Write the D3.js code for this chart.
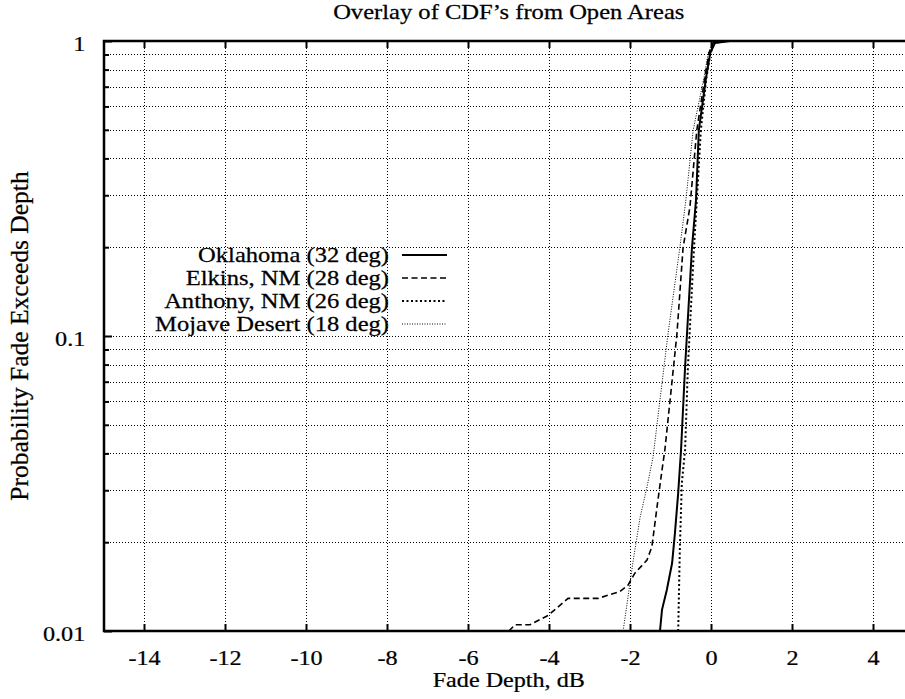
<!DOCTYPE html>
<html>
<head>
<meta charset="utf-8">
<script src="https://cdn.jsdelivr.net/npm/d3@7"></script>
<style>
    body { margin: 0; background: #fff; }
    text { font-family: "Liberation Serif", "Times New Roman", serif; fill: #000; stroke: #000; stroke-width: 0.25; }
</style>
</head>
<body>
<div id="chart"></div>
<script>
//axis values
var xTicks = [-14, -12, -10, -8, -6, -4, -2, 0, 2, 4];
var yTicks = [0.01, 0.1, 1];
var yMinor = [0.02, 0.03, 0.04, 0.05, 0.06, 0.07, 0.08, 0.09, 0.2, 0.3, 0.4, 0.5, 0.6, 0.7, 0.8, 0.9];

var seriesNames = ["Oklahoma (32 deg)", "Elkins, NM (28 deg)", "Anthony, NM (26 deg)", "Mojave Desert (18 deg)"];

//fade depth (dB) and probability
var oklahomaX = [-1.26, -1.21, -1.09, -0.96, -0.89, -0.81, -0.74, -0.64, -0.47, -0.37, -0.30, -0.12, -0.02, 0.10, 0.47];
var oklahomaP = [0.01, 0.0118, 0.0138, 0.017, 0.0215, 0.0294, 0.041, 0.0785, 0.199, 0.289, 0.499, 0.755, 0.91, 0.985, 1.0];

var elkinsX = [-4.99, -4.84, -4.47, -4.02, -3.53, -2.79, -2.25, -2.05, -1.88, -1.58, -1.46, -1.31, -1.21, -1.14, -1.01, -0.84, -0.69, -0.52, -0.35, -0.15, -0.05, 0.05, 0.35];
var elkinsP = [0.01, 0.0105, 0.0105, 0.0113, 0.0129, 0.0129, 0.0136, 0.0143, 0.0157, 0.0174, 0.0193, 0.0278, 0.0351, 0.041, 0.0607, 0.102, 0.199, 0.274, 0.499, 0.755, 0.91, 0.985, 1.0];

var anthonyX = [-0.81, -0.77, -0.72, -0.64, -0.57, -0.42, -0.35, -0.25, -0.12, -0.02, 0.07, 0.35];
var anthonyP = [0.01, 0.0188, 0.0318, 0.041, 0.0785, 0.199, 0.289, 0.499, 0.74, 0.9, 0.985, 1.0];

var mojaveX = [-2.17, -2.05, -1.93, -1.75, -1.58, -1.43, -1.26, -1.06, -0.77, -0.62, -0.44, -0.17, -0.07, 0.05, 0.27];
var mojaveP = [0.01, 0.013, 0.017, 0.0243, 0.0308, 0.0389, 0.0607, 0.102, 0.199, 0.289, 0.499, 0.755, 0.91, 0.985, 1.0];

var seriesX = [oklahomaX, elkinsX, anthonyX, mojaveX];
var seriesP = [oklahomaP, elkinsP, anthonyP, mojaveP];
var seriesDash = ["none", "6,3.5", "2,2.5", "1,1.5"];
var seriesWidth = [2, 1.6, 2, 1];

var width = 905, height = 699;
var plot = {left: 104, right: 913.5, top: 41, bottom: 631};

var svg = d3.select("#chart").append("svg")
    .attr("width", width)
    .attr("height", height);

var xLinear = d3.scaleLinear()
    .domain([-15, 5])
    .range([plot.left - 0.5, plot.right]);
var yLog = d3.scaleLog()
    .domain([0.01, 1])
    .range([plot.bottom, plot.top]);

//stretched text, like the scanned original
function wideText(g, str, x, y, size, sx, anchor) {
    return g.append("text")
        .attr("transform", "translate(" + x + "," + y + ") scale(" + sx + ",1)")
        .attr("font-size", size)
        .attr("text-anchor", anchor)
        .text(str);
}

svg.append("clipPath")
    .attr("id", "clip")
    .append("rect")
    .attr("x", plot.left)
    .attr("y", plot.top - 2)
    .attr("width", width - plot.left)
    .attr("height", plot.bottom - plot.top + 2);

//grid
var grid = svg.append("g")
    .attr("class", "grid");
grid.append("g")
    .attr("transform", "translate(0," + plot.bottom + ")")
    .call(d3.axisBottom(xLinear).tickValues(xTicks).tickSize(-(plot.bottom - plot.top)).tickFormat(""));
grid.append("g")
    .attr("transform", "translate(" + plot.left + ",0)")
    .call(d3.axisLeft(yLog).tickValues(yMinor.concat([0.1])).tickSize(-(width - plot.left)).tickFormat(""));
grid.selectAll(".domain").remove();
grid.selectAll("line")
    .attr("stroke", "#000")
    .attr("stroke-width", 1)
    .attr("shape-rendering", "crispEdges")
    .attr("stroke-dasharray", "1,2");

//bottom axis, plain hyphen for negatives
var xAxis = svg.append("g")
    .attr("transform", "translate(0," + plot.bottom + ")")
    .call(d3.axisBottom(xLinear).tickValues(xTicks).tickSizeInner(-7).tickSizeOuter(0)
        .tickFormat(function (d) { return String(d); }));
xAxis.selectAll("text")
    .attr("y", 34)
    .attr("dy", 0)
    .attr("font-size", 22)
    .attr("transform", "scale(1.1,1)");

//top ticks
svg.append("g")
    .attr("transform", "translate(0," + plot.top + ")")
    .call(d3.axisTop(xLinear).tickValues(xTicks).tickSizeInner(-7).tickSizeOuter(0).tickFormat(""));

//left axis
var yAxis = svg.append("g")
    .attr("transform", "translate(" + plot.left + ",0)")
    .call(d3.axisLeft(yLog).tickValues(yTicks).tickSizeInner(-8).tickSizeOuter(0)
        .tickFormat(function (d) { return String(d); }));
yAxis.selectAll("text")
    .attr("x", -17)
    .attr("y", 9.5)
    .attr("dy", 0)
    .attr("font-size", 22)
    .attr("transform", "scale(1.1,1)");
svg.append("g")
    .attr("transform", "translate(" + plot.left + ",0)")
    .call(d3.axisLeft(yLog).tickValues(yMinor).tickSizeInner(-5).tickSizeOuter(0).tickFormat(""));

svg.selectAll(".domain").remove();
svg.selectAll(".tick line")
    .filter(function () { return !this.closest(".grid"); })
    .attr("stroke", "#000")
    .attr("stroke-width", 2);

//frame (right side is cut off in the original)
var frame = svg.append("g")
    .attr("stroke", "#000")
    .attr("stroke-width", 2.5)
    .attr("fill", "none");
frame.append("path")
    .attr("d", "M" + width + "," + plot.top + "H" + plot.left + "V" + plot.bottom + "H" + width);

//curves
var line = d3.line()
    .x(function (d) { return xLinear(d[0]); })
    .y(function (d) { return yLog(d[1]); });

var curves = svg.append("g")
    .attr("clip-path", "url(#clip)");
seriesX.forEach(function (xs, i) {
    var pts = xs.map(function (v, j) { return [v, seriesP[i][j]]; });
    curves.append("path")
        .datum(pts)
        .attr("d", line)
        .attr("fill", "none")
        .attr("stroke", "#000")
        .attr("stroke-width", seriesWidth[i])
        .attr("stroke-dasharray", seriesDash[i] === "none" ? null : seriesDash[i]);
});

//legend
var legend = svg.append("g");
seriesNames.forEach(function (name, i) {
    var by = 262 + i * 23;
    wideText(legend, name, 389, by, 21, 1.17, "end");
    legend.append("line")
        .attr("x1", 402)
        .attr("x2", 447)
        .attr("y1", by - 7)
        .attr("y2", by - 7)
        .attr("stroke", "#000")
        .attr("stroke-width", seriesWidth[i])
        .attr("stroke-dasharray", seriesDash[i] === "none" ? null : seriesDash[i]);
});

//titles
wideText(svg, "Overlay of CDF\u2019s from Open Areas", (plot.left + plot.right) / 2, 18.5, 21, 1.17, "middle");
wideText(svg, "Fade Depth, dB", (plot.left + plot.right) / 2, 687, 21, 1.15, "middle");
svg.append("text")
    .attr("transform", "translate(28,336) rotate(-90)")
    .attr("font-size", 25.5)
    .attr("text-anchor", "middle")
    .text("Probability Fade Exceeds Depth");
</script>
</body>
</html>
